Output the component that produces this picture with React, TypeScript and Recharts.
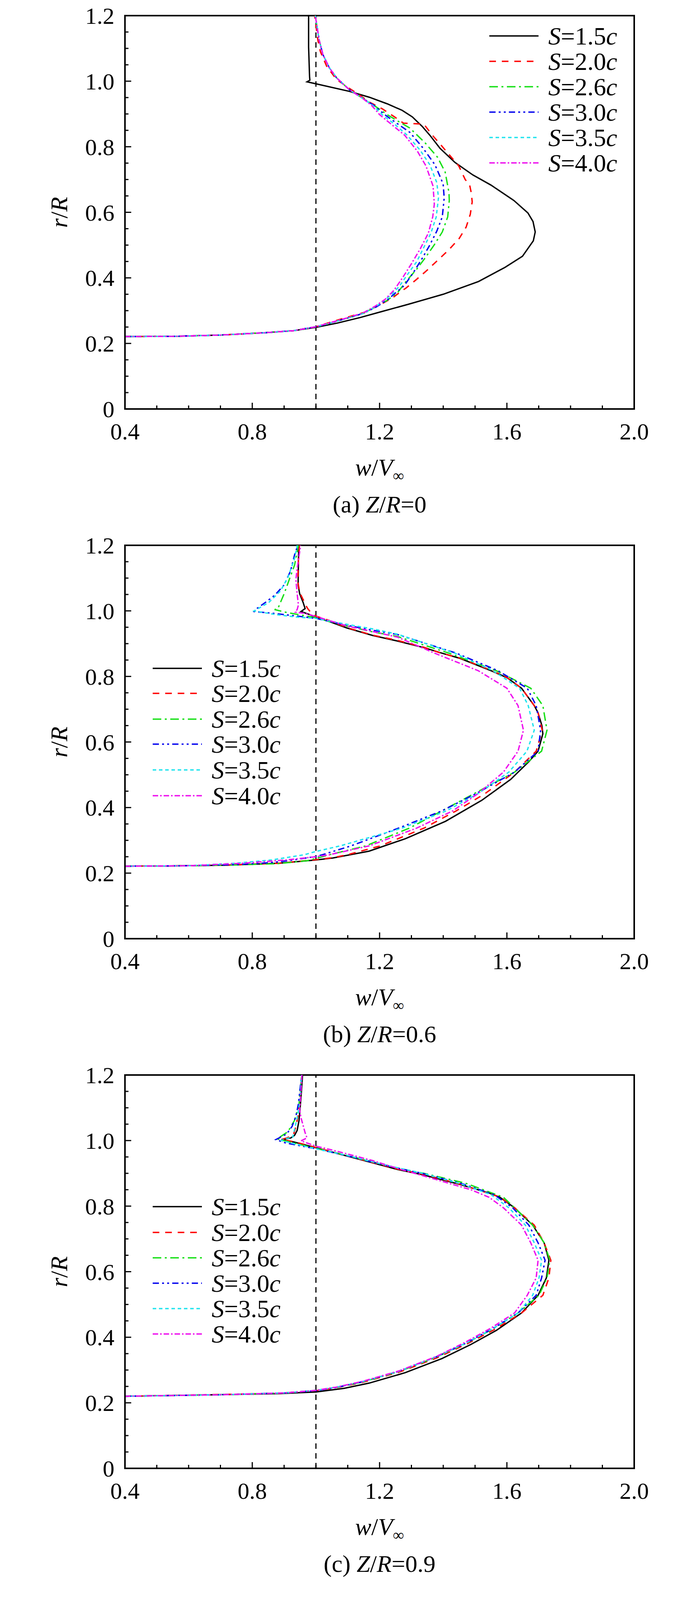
import React from 'react';
import { LineChart, Line, XAxis, YAxis, ReferenceLine, ReferenceArea, Legend } from 'recharts';

type Pt = [number, number];

// ---------- series definitions ----------
const SERIES_NAMES = ['1.5', '2.0', '2.6', '3.0', '3.5', '4.0'];
const SERIES_COLORS = ['#000000', '#ff0000', '#18e018', '#0000ee', '#22e4ee', '#ee11ee'];
const SERIES_DASH: (string | undefined)[] = [undefined, '17 15', '22 9 5 9', '16 8 5 8 5 8', '9 7', '14 5 4 5'];

// ---------- axis ticks ----------
const X_TICKS = [0.4, 0.5, 0.6, 0.7, 0.8, 0.9, 1.0, 1.1, 1.2, 1.3, 1.4, 1.5, 1.6, 1.7, 1.8, 1.9, 2.0];
const X_LABELED = [0.4, 0.8, 1.2, 1.6, 2.0];
const Y_TICKS = [0, 0.05, 0.1, 0.15, 0.2, 0.25, 0.3, 0.35, 0.4, 0.45, 0.5, 0.55, 0.6, 0.65, 0.7, 0.75, 0.8, 0.85, 0.9, 0.95, 1.0, 1.05, 1.1, 1.15, 1.2];
const Y_LABELED = [0, 0.2, 0.4, 0.6, 0.8, 1.0, 1.2];
const FREESTREAM = 1.0;

// ---------- panel (a) Z/R=0 : [w/V, r/R] ----------
const A_S15: Pt[] = [[0.4,0.221],[0.55,0.2215],[0.7,0.2255],[0.845,0.233],[0.93,0.239],[1.0,0.249],[1.067,0.262],[1.139,0.279],[1.206,0.297],[1.289,0.319],[1.4,0.35],[1.511,0.389],[1.594,0.432],[1.649,0.466],[1.683,0.513],[1.689,0.54],[1.682,0.572],[1.666,0.598],[1.622,0.636],[1.55,0.683],[1.493,0.714],[1.437,0.752],[1.39,0.795],[1.358,0.835],[1.334,0.862],[1.303,0.891],[1.271,0.911],[1.224,0.931],[1.168,0.951],[1.105,0.969],[1.0,0.992],[0.972,0.998],[0.981,1.003],[0.98,1.014],[0.977,1.104],[0.977,1.2]];
const A_S20: Pt[] = [[0.4,0.221],[0.55,0.2215],[0.7,0.2255],[0.845,0.233],[0.93,0.239],[1.0,0.251],[1.04,0.263],[1.095,0.279],[1.15,0.294],[1.19,0.312],[1.239,0.338],[1.261,0.354],[1.283,0.369],[1.317,0.396],[1.35,0.424],[1.383,0.454],[1.417,0.485],[1.45,0.52],[1.472,0.555],[1.485,0.594],[1.491,0.632],[1.488,0.66],[1.483,0.683],[1.469,0.7],[1.449,0.741],[1.422,0.772],[1.394,0.804],[1.366,0.835],[1.339,0.869],[1.275,0.872],[1.247,0.891],[1.208,0.916],[1.168,0.936],[1.137,0.958],[1.105,0.978],[1.065,1.005],[1.034,1.045],[1.014,1.09],[1.006,1.126],[0.996,1.2]];
const A_S26: Pt[] = [[0.4,0.221],[0.55,0.2215],[0.7,0.2255],[0.845,0.233],[0.93,0.239],[1.0,0.251],[1.04,0.261],[1.095,0.276],[1.15,0.292],[1.178,0.307],[1.223,0.331],[1.256,0.354],[1.283,0.389],[1.317,0.427],[1.344,0.462],[1.372,0.501],[1.397,0.54],[1.414,0.586],[1.419,0.636],[1.418,0.66],[1.406,0.723],[1.382,0.768],[1.342,0.813],[1.295,0.857],[1.263,0.875],[1.224,0.898],[1.184,0.925],[1.145,0.949],[1.105,0.974],[1.065,1.01],[1.042,1.041],[1.022,1.081],[1.01,1.126],[0.998,1.2]];
const A_S30: Pt[] = [[0.4,0.221],[0.55,0.2215],[0.7,0.2255],[0.845,0.233],[0.93,0.239],[1.0,0.251],[1.04,0.261],[1.095,0.276],[1.15,0.292],[1.189,0.311],[1.225,0.333],[1.245,0.35],[1.278,0.377],[1.306,0.416],[1.333,0.458],[1.356,0.497],[1.38,0.543],[1.397,0.586],[1.403,0.644],[1.4,0.683],[1.394,0.7],[1.374,0.745],[1.334,0.799],[1.295,0.844],[1.255,0.871],[1.216,0.898],[1.184,0.925],[1.145,0.949],[1.105,0.974],[1.065,1.01],[1.042,1.041],[1.022,1.081],[1.01,1.126],[0.998,1.2]];
const A_S35: Pt[] = [[0.4,0.221],[0.55,0.2215],[0.7,0.2255],[0.845,0.233],[0.93,0.239],[1.0,0.251],[1.04,0.261],[1.095,0.276],[1.15,0.292],[1.189,0.313],[1.234,0.346],[1.261,0.373],[1.289,0.412],[1.317,0.45],[1.339,0.493],[1.361,0.536],[1.378,0.586],[1.385,0.644],[1.38,0.69],[1.358,0.745],[1.327,0.79],[1.287,0.835],[1.247,0.869],[1.208,0.898],[1.18,0.925],[1.145,0.949],[1.105,0.974],[1.065,1.01],[1.042,1.041],[1.022,1.081],[1.01,1.126],[0.998,1.2]];
const A_S40: Pt[] = [[0.4,0.221],[0.55,0.2215],[0.7,0.2255],[0.845,0.233],[0.93,0.239],[1.0,0.251],[1.04,0.262],[1.095,0.277],[1.15,0.294],[1.185,0.313],[1.217,0.334],[1.245,0.362],[1.272,0.4],[1.3,0.443],[1.328,0.489],[1.353,0.536],[1.367,0.586],[1.372,0.625],[1.368,0.68],[1.346,0.741],[1.319,0.786],[1.279,0.835],[1.24,0.866],[1.2,0.898],[1.176,0.925],[1.145,0.949],[1.105,0.974],[1.065,1.01],[1.042,1.041],[1.022,1.081],[1.01,1.126],[0.998,1.2]];

// ---------- panel (b) Z/R=0.6 ----------
const B_S15: Pt[] = [[0.4,0.221],[0.54,0.222],[0.711,0.224],[0.882,0.23],[1.0,0.24],[1.053,0.246],[1.167,0.267],[1.281,0.305],[1.407,0.358],[1.521,0.422],[1.612,0.486],[1.669,0.54],[1.698,0.572],[1.713,0.625],[1.71,0.65],[1.698,0.689],[1.686,0.711],[1.646,0.764],[1.601,0.796],[1.55,0.8175],[1.453,0.855],[1.396,0.871],[1.339,0.888],[1.256,0.908],[1.178,0.925],[1.097,0.948],[1.035,0.97],[1.0,0.979],[0.982,0.988],[0.953,0.998],[0.966,1.007],[0.96,1.025],[0.949,1.052],[0.944,1.079],[0.945,1.15],[0.946,1.2]];
const B_S20: Pt[] = [[0.4,0.221],[0.54,0.222],[0.711,0.224],[0.882,0.23],[1.0,0.241],[1.053,0.247],[1.099,0.256],[1.202,0.283],[1.339,0.337],[1.441,0.39],[1.532,0.443],[1.624,0.508],[1.692,0.572],[1.711,0.636],[1.698,0.689],[1.686,0.711],[1.646,0.764],[1.6,0.797],[1.55,0.819],[1.453,0.856],[1.39,0.872],[1.339,0.889],[1.256,0.91],[1.178,0.926],[1.097,0.949],[1.035,0.973],[1.0,0.984],[0.986,0.993],[0.974,1.007],[0.97,1.014],[0.949,1.056],[0.943,1.09],[0.945,1.15],[0.948,1.2]];
const B_S26: Pt[] = [[0.4,0.221],[0.6,0.2225],[0.75,0.225],[0.882,0.229],[0.974,0.238],[1.042,0.256],[1.156,0.283],[1.293,0.337],[1.396,0.39],[1.498,0.443],[1.624,0.508],[1.709,0.572],[1.726,0.636],[1.713,0.711],[1.675,0.764],[1.567,0.8175],[1.418,0.871],[1.256,0.922],[1.178,0.936],[1.097,0.954],[1.056,0.964],[1.0,0.979],[0.949,0.988],[0.904,0.996],[0.87,1.004],[0.88,1.006],[0.9,1.052],[0.916,1.095],[0.933,1.14],[0.945,1.2]];
const B_S30: Pt[] = [[0.4,0.221],[0.6,0.2225],[0.75,0.226],[0.86,0.232],[0.928,0.24],[1.0,0.251],[1.02,0.256],[1.11,0.283],[1.259,0.337],[1.396,0.39],[1.504,0.443],[1.624,0.508],[1.698,0.572],[1.706,0.636],[1.692,0.711],[1.664,0.764],[1.572,0.8175],[1.441,0.871],[1.256,0.928],[1.178,0.941],[1.097,0.956],[1.0,0.977],[0.933,0.985],[0.851,0.994],[0.806,0.998],[0.81,1.004],[0.843,1.027],[0.871,1.048],[0.9,1.079],[0.92,1.121],[0.933,1.171],[0.943,1.2]];
const B_S35: Pt[] = [[0.4,0.221],[0.6,0.2225],[0.746,0.23],[0.86,0.24],[0.963,0.256],[1.0,0.266],[1.076,0.283],[1.27,0.337],[1.41,0.39],[1.51,0.443],[1.606,0.508],[1.663,0.572],[1.686,0.636],[1.667,0.711],[1.64,0.764],[1.556,0.8175],[1.436,0.871],[1.256,0.929],[1.178,0.945],[1.097,0.959],[1.0,0.977],[0.941,0.981],[0.871,0.989],[0.806,1.0],[0.851,1.025],[0.888,1.06],[0.912,1.102],[0.933,1.16],[0.941,1.2]];
const B_S40: Pt[] = [[0.4,0.221],[0.6,0.2225],[0.768,0.23],[0.905,0.24],[1.0,0.25],[1.042,0.256],[1.167,0.283],[1.316,0.337],[1.43,0.39],[1.51,0.443],[1.589,0.508],[1.635,0.572],[1.652,0.636],[1.635,0.711],[1.6,0.764],[1.51,0.8175],[1.373,0.871],[1.256,0.92],[1.178,0.937],[1.097,0.954],[1.0,0.983],[0.962,0.993],[0.935,0.996],[0.941,1.004],[0.945,1.018],[0.941,1.052],[0.937,1.095],[0.941,1.129],[0.952,1.2]];

// ---------- panel (c) Z/R=0.9 ----------
const C_S15: Pt[] = [[0.4,0.22],[0.654,0.224],[0.882,0.228],[1.0,0.233],[1.088,0.244],[1.167,0.26],[1.281,0.292],[1.396,0.335],[1.487,0.378],[1.567,0.421],[1.646,0.474],[1.698,0.528],[1.724,0.581],[1.732,0.635],[1.717,0.688],[1.681,0.742],[1.624,0.795],[1.578,0.827],[1.544,0.84],[1.453,0.866],[1.339,0.895],[1.256,0.912],[1.178,0.932],[1.097,0.953],[1.0,0.978],[0.933,0.995],[0.892,1.003],[0.921,1.008],[0.933,1.016],[0.941,1.031],[0.947,1.062],[0.953,1.131],[0.958,1.2]];
const C_S20: Pt[] = [[0.4,0.22],[0.654,0.2245],[0.882,0.229],[1.0,0.237],[1.065,0.246],[1.145,0.262],[1.26,0.293],[1.38,0.337],[1.475,0.38],[1.56,0.423],[1.646,0.474],[1.713,0.528],[1.732,0.581],[1.738,0.635],[1.717,0.688],[1.686,0.742],[1.624,0.795],[1.578,0.828],[1.453,0.867],[1.339,0.897],[1.256,0.913],[1.178,0.933],[1.097,0.954],[1.0,0.979],[0.933,0.996],[0.892,1.003],[0.908,1.008],[0.929,1.016],[0.937,1.043],[0.945,1.081],[0.949,1.112],[0.955,1.2]];
const C_S26: Pt[] = [[0.4,0.22],[0.7,0.2245],[0.9,0.23],[1.0,0.238],[1.065,0.247],[1.145,0.263],[1.26,0.295],[1.38,0.34],[1.475,0.383],[1.555,0.425],[1.635,0.474],[1.701,0.528],[1.726,0.581],[1.735,0.635],[1.717,0.688],[1.681,0.742],[1.624,0.795],[1.589,0.827],[1.47,0.87],[1.339,0.9],[1.256,0.916],[1.178,0.935],[1.097,0.955],[1.0,0.976],[0.933,0.992],[0.878,1.005],[0.884,1.009],[0.912,1.027],[0.933,1.062],[0.947,1.112],[0.955,1.2]];
const C_S30: Pt[] = [[0.4,0.22],[0.7,0.2245],[0.9,0.23],[1.0,0.237],[1.065,0.247],[1.145,0.264],[1.26,0.296],[1.38,0.341],[1.475,0.384],[1.555,0.426],[1.635,0.474],[1.692,0.528],[1.709,0.581],[1.72,0.635],[1.698,0.688],[1.669,0.742],[1.618,0.795],[1.56,0.835],[1.46,0.868],[1.339,0.899],[1.256,0.916],[1.178,0.934],[1.097,0.954],[1.0,0.975],[0.904,0.993],[0.874,1.003],[0.908,1.02],[0.925,1.043],[0.937,1.074],[0.945,1.112],[0.955,1.2]];
const C_S35: Pt[] = [[0.4,0.22],[0.7,0.2245],[0.9,0.23],[1.0,0.238],[1.065,0.248],[1.145,0.264],[1.26,0.296],[1.38,0.341],[1.475,0.384],[1.555,0.426],[1.635,0.474],[1.681,0.528],[1.701,0.581],[1.709,0.635],[1.686,0.688],[1.658,0.742],[1.606,0.795],[1.55,0.835],[1.455,0.868],[1.339,0.899],[1.256,0.917],[1.178,0.935],[1.097,0.955],[1.0,0.975],[0.933,0.99],[0.892,1.0],[0.9,1.005],[0.927,1.01],[0.933,1.035],[0.941,1.07],[0.95,1.12],[0.955,1.2]];
const C_S40: Pt[] = [[0.4,0.22],[0.7,0.2245],[0.9,0.23],[1.0,0.238],[1.065,0.248],[1.145,0.265],[1.26,0.297],[1.38,0.342],[1.47,0.385],[1.55,0.428],[1.624,0.474],[1.664,0.528],[1.692,0.581],[1.698,0.635],[1.675,0.688],[1.646,0.742],[1.589,0.795],[1.544,0.827],[1.487,0.85],[1.339,0.892],[1.256,0.915],[1.178,0.939],[1.056,0.97],[1.0,0.983],[0.953,0.999],[0.972,1.008],[0.966,1.024],[0.953,1.07],[0.949,1.093],[0.953,1.15],[0.956,1.2]];

// ---------- layout ----------
const FONT = '"Liberation Serif", "Times New Roman", Times, serif';
const W = 1772;
const PAGE_H = 4180;
const PANEL_H = 1356;
const PLOT_LEFT = 320;
const PLOT_TOP = 40;
const PLOT_W = 1304;
const PLOT_H = 1007;
const TICK_FONT = 60;

const isIn = (arr: number[], v: number) => arr.some((m) => Math.abs(m - v) < 1e-9);

const XTick = (props: any) => {
  const { x, y, payload } = props;
  const v = payload.value as number;
  const major = isIn(X_LABELED, v);
  return (
    <g>
      <line x1={x} y1={y} x2={x} y2={y - (major ? 16 : 9)} stroke="#000" strokeWidth={3} />
      {major && (
        <text x={x} y={y + 78} textAnchor="middle" fontSize={TICK_FONT} fontFamily={FONT} fill="#000">
          {v.toFixed(1)}
        </text>
      )}
    </g>
  );
};

const YTick = (props: any) => {
  const { x, y, payload } = props;
  const v = payload.value as number;
  const major = isIn(Y_LABELED, v);
  return (
    <g>
      <line x1={x} y1={y} x2={x + (major ? 16 : 9)} y2={y} stroke="#000" strokeWidth={3} />
      {major && (
        <text x={x - 27} y={y + 21} textAnchor="end" fontSize={TICK_FONT} fontFamily={FONT} fill="#000">
          {v === 0 ? '0' : v.toFixed(1)}
        </text>
      )}
    </g>
  );
};

type PanelProps = {
  top: number;
  series: Pt[][];
  tag: string;
  zr: string;
  legendX: number;
  legendRows: number[];
};

function Panel({ top, series, tag, zr, legendX, legendRows }: PanelProps) {
  const height = PANEL_H;
  const xAxisH = height - PLOT_TOP - PLOT_H;
  const renderXLabel = (p: any) => {
    const vb = p && p.viewBox ? p.viewBox : {};
    const cx = (vb.x ?? PLOT_LEFT) + (vb.width ?? PLOT_W) / 2;
    const y0 = vb.y ?? PLOT_TOP + PLOT_H;
    return (
      <g>
        <text x={cx} y={y0 + 170} textAnchor="middle" fontSize={62} fontFamily={FONT} fill="#000">
          <tspan fontStyle="italic">w</tspan>/<tspan fontStyle="italic">V</tspan>
          <tspan fontSize={40} dy={14}>∞</tspan>
        </text>
        <text x={cx} y={y0 + 265} textAnchor="middle" fontSize={62} fontFamily={FONT} fill="#000">
          {`(${tag}) `}<tspan fontStyle="italic">Z</tspan>/<tspan fontStyle="italic">R</tspan>{`=${zr}`}
        </text>
      </g>
    );
  };
  const renderYLabel = () => {
    const cy = PLOT_TOP + PLOT_H / 2;
    const lx = 172;
    return (
      <text x={lx} y={cy} transform={`rotate(-90, ${lx}, ${cy})`} textAnchor="middle" fontSize={62} fontFamily={FONT} fill="#000">
        <tspan fontStyle="italic">r</tspan>/<tspan fontStyle="italic">R</tspan>
      </text>
    );
  };
  const renderLegend = () => (
    <svg width={W} height={height} style={{ display: 'block' }}>
      {SERIES_NAMES.map((n, i) => (
        <g key={n}>
          <line x1={legendX} x2={legendX + 126} y1={legendRows[i]} y2={legendRows[i]} stroke={SERIES_COLORS[i]} strokeWidth={3.5} strokeDasharray={SERIES_DASH[i]} />
          <text x={legendX + 151} y={legendRows[i] + 22} fontSize={64} fontFamily={FONT} fill="#000">
            <tspan fontStyle="italic">S</tspan>
            {`=${n}`}
            <tspan fontStyle="italic">c</tspan>
          </text>
        </g>
      ))}
    </svg>
  );

  return (
    <div style={{ position: 'absolute', left: 0, top, width: W, height }}>
      <LineChart width={W} height={height} margin={{ top: PLOT_TOP, right: W - PLOT_LEFT - PLOT_W, bottom: 0, left: 0 }}>
        <XAxis
          type="number"
          dataKey="w"
          domain={[0.4, 2.0]}
          allowDataOverflow
          ticks={X_TICKS}
          interval={0}
          tickSize={0}
          tickMargin={0}
          tickLine={false}
          tick={XTick}
          height={xAxisH}
          axisLine={{ stroke: '#000', strokeWidth: 4 }}
          label={renderXLabel}
        />
        <YAxis
          type="number"
          dataKey="r"
          domain={[0, 1.2]}
          allowDataOverflow
          ticks={Y_TICKS}
          interval={0}
          tickSize={0}
          tickMargin={0}
          tickLine={false}
          tick={YTick}
          width={PLOT_LEFT}
          axisLine={{ stroke: '#000', strokeWidth: 4 }}
          label={renderYLabel}
        />
        <ReferenceArea x1={0.4} x2={2.0} y1={0} y2={1.2} fill="none" stroke="#000" strokeWidth={4} ifOverflow="visible" />
        <ReferenceLine x={FREESTREAM} stroke="#000" strokeWidth={3} strokeDasharray="14 11" />
        {series.map((pts, i) => (
          <Line
            key={SERIES_NAMES[i]}
            name={`S=${SERIES_NAMES[i]}c`}
            data={pts.map(([w, r]) => ({ w, r }))}
            dataKey="r"
            type="linear"
            dot={false}
            activeDot={false}
            stroke={SERIES_COLORS[i]}
            strokeWidth={3.5}
            strokeDasharray={SERIES_DASH[i]}
            isAnimationActive={false}
          />
        ))}
        <Legend
          layout="vertical"
          align="center"
          verticalAlign="middle"
          content={renderLegend}
          wrapperStyle={{ left: 0, top: 0, width: W, height, pointerEvents: 'none' }}
        />
      </LineChart>
    </div>
  );
}

export default function App() {
  return (
    <div style={{ position: 'absolute', left: 0, top: 0, width: W, height: PAGE_H, background: '#fff', overflow: 'hidden' }}>
      <Panel
        top={0}
        series={[A_S15, A_S20, A_S26, A_S30, A_S35, A_S40]}
        tag="a"
        zr="0"
        legendX={1253}
        legendRows={[92, 157, 222, 287, 352, 417]}
      />
      <Panel
        top={PANEL_H}
        series={[B_S15, B_S20, B_S26, B_S30, B_S35, B_S40]}
        tag="b"
        zr="0.6"
        legendX={391}
        legendRows={[355, 419, 485, 549, 615, 681]}
      />
      <Panel
        top={PANEL_H * 2}
        series={[C_S15, C_S20, C_S26, C_S30, C_S35, C_S40]}
        tag="c"
        zr="0.9"
        legendX={391}
        legendRows={[377, 443, 508, 573, 638, 703]}
      />
    </div>
  );
}
